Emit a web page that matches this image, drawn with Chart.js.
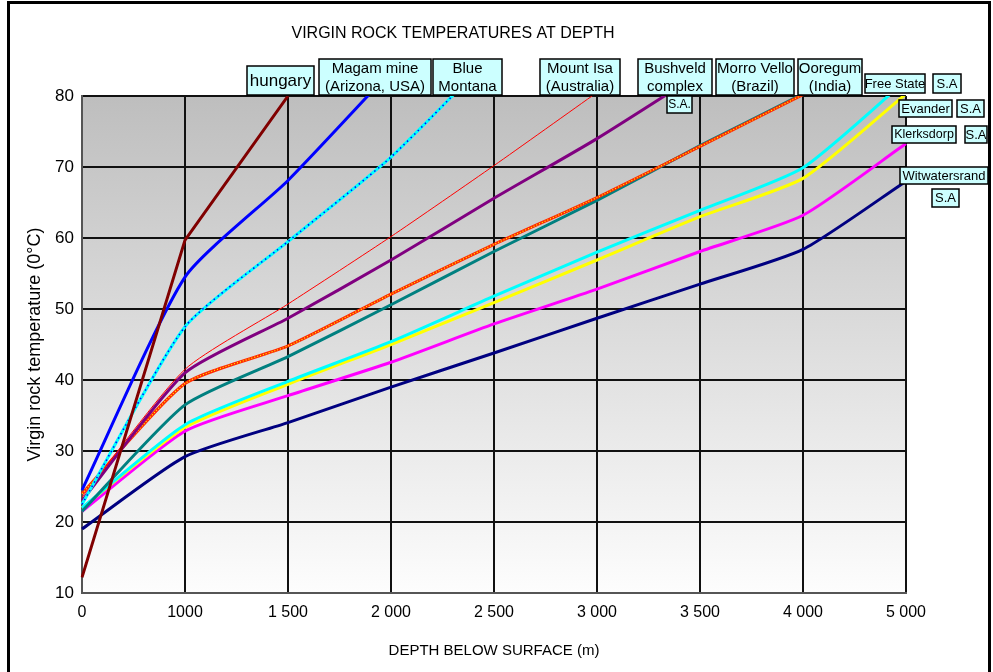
<!DOCTYPE html>
<html><head><meta charset="utf-8">
<script src="https://cdn.jsdelivr.net/npm/chart.js@4/dist/chart.umd.min.js"></script>
<style>html,body{margin:0;padding:0;background:#fff}#wrap{width:993px;height:672px;position:relative}</style>
</head><body><div id="wrap"><canvas id="c" width="993" height="672"></canvas></div>
<script>
// ---- data ----
const depthLabels = ['0','1000','1 500','2 000','2 500','3 000','3 500','4 000','5 000'];
const yTicks = [10, 20, 30, 40, 50, 60, 70, 80];
const hungary       = [12.2, 59.7, 80, null, null, null, null, null, null];
const magamMine     = [24.5, 54.5, 68.1, 83.5, null, null, null, null, null];
const blueMontana   = [22.5, 47.5, 59.5, 71.4, 86, null, null, null, null];
const mountIsa      = [23.5, 41.5, 50.7, 60.2, 70.2, 80.5, null, null, null];
const bushveld      = [23, 41, 48.7, 56.9, 65.6, 74, 83.2, null, null];
const morroVello    = [24, 39.5, 44.8, 52.1, 59.1, 65.7, 72.9, 80.2, 87.5];
const ooregum       = [21.5, 36.5, 43.3, 50.6, 58.1, 65.3, 73, 80.3, 88];
const freeState     = [22, 33.7, 39.8, 45.4, 51.8, 58, 63.9, 69.9, 82.2];
const evander       = [22, 33.3, 39.4, 45, 50.9, 56.9, 63, 68.4, 80.3];
const klerksdorp    = [21.5, 32.8, 37.8, 42.5, 47.9, 52.8, 58.1, 63.2, 73.3];
const witwatersrand = [19, 29.2, 34, 39, 43.8, 48.7, 53.5, 58.4, 68];

const title = 'VIRGIN ROCK TEMPERATURES AT DEPTH';
const xTitle = 'DEPTH BELOW SURFACE (m)';
const yTitle = 'Virgin rock temperature (0°C)';

// ---- annotation boxes (layout only) ----
const FONT = "'Liberation Sans', Arial, sans-serif";
const boxes = [
  {t:['hungary'], x:247, y:66, w:67, h:29, f:17},
  {t:['Magam mine','(Arizona, USA)'], x:319, y:59, w:112, h:36, f:15},
  {t:['Blue','Montana'], x:433, y:59, w:69, h:36, f:15},
  {t:['Mount Isa','(Australia)'], x:540, y:59, w:80, h:36, f:15},
  {t:['Bushveld','complex'], x:638, y:59, w:74, h:36, f:15},
  {t:['S.A.'], x:667, y:96, w:25, h:17, f:12},
  {t:['Morro Vello','(Brazil)'], x:716, y:59, w:78, h:36, f:15},
  {t:['Ooregum','(India)'], x:798, y:59, w:64, h:36, f:15},
  {t:['Free State'], x:865, y:74, w:60, h:19, f:13},
  {t:['S.A'], x:933, y:74, w:28, h:19, f:13},
  {t:['Evander'], x:899, y:100, w:53, h:17, f:13},
  {t:['S.A'], x:957, y:100, w:27, h:17, f:13},
  {t:['Klerksdorp'], x:892, y:126, w:64, h:17, f:12.5},
  {t:['S.A'], x:965, y:126, w:22, h:17, f:13},
  {t:['Witwatersrand'], x:900, y:167, w:88, h:17, f:13},
  {t:['S.A'], x:932, y:189, w:27, h:18, f:13}
];

const bgPlugin = {
  id: 'bg',
  beforeDraw(chart) {
    const {ctx, chartArea: a} = chart;
    ctx.save();
    ctx.fillStyle = '#fff';
    ctx.fillRect(0, 0, chart.width, chart.height);
    const g = ctx.createLinearGradient(0, a.top, 0, a.bottom);
    g.addColorStop(0, '#BEBEBE');
    g.addColorStop(1, '#FDFDFD');
    ctx.fillStyle = g;
    ctx.fillRect(a.left, a.top, a.right - a.left, a.bottom - a.top);
    ctx.restore();
  },
  afterDraw(chart) {
    const ctx = chart.ctx;
    ctx.save();
    boxes.forEach(b => {
      ctx.fillStyle = '#CCFFFF';
      ctx.fillRect(b.x, b.y, b.w, b.h);
      ctx.strokeStyle = '#000';
      ctx.lineWidth = 1.5;
      ctx.strokeRect(b.x, b.y, b.w, b.h);
      ctx.fillStyle = '#000';
      ctx.font = b.f + 'px ' + FONT;
      ctx.textAlign = 'center';
      ctx.textBaseline = 'middle';
      const lh = b.t.length > 1 ? b.h / b.t.length : b.h;
      b.t.forEach((s, i) => {
        ctx.fillText(s, b.x + b.w / 2, b.y + lh * i + lh / 2 + 0.5);
      });
    });
    ctx.strokeStyle = '#000';
    ctx.lineWidth = 3;
    ctx.strokeRect(8.5, 2.5, 981, 700);
    ctx.restore();
  }
};

function ds(label, data, color, width, extra) {
  return Object.assign({label, data, borderColor: color, backgroundColor: color,
    borderWidth: width, pointRadius: 0, tension: 0.2, fill: false}, extra || {});
}

const datasets = [
  ds('Witwatersrand S.A', witwatersrand, '#000080', 3),
  ds('Klerksdorp S.A', klerksdorp, '#FF00FF', 3),
  ds('Evander S.A', evander, '#FFFF00', 3),
  ds('Free State S.A', freeState, '#00FFFF', 3),
  ds('Ooregum (India)', ooregum, '#008080', 3),
  ds('Morro Vello (Brazil)', morroVello, '#FF2A00', 3),
  ds('Morro Vello overlay', morroVello, '#FFFF00', 1.2, {borderDash: [1, 2]}),
  ds('Bushveld complex S.A.', bushveld, '#800080', 3),
  ds('Mount Isa (Australia)', mountIsa, '#FF0000', 1),
  ds('Blue Montana', blueMontana, '#00FFFF', 3),
  ds('Blue Montana overlay', blueMontana, '#0000FF', 1.5, {borderDash: [1.5, 3.5]}),
  ds('Magam mine (Arizona, USA)', magamMine, '#0000FF', 3),
  ds('hungary', hungary, '#800000', 3, {tension: 0})
];
datasets.forEach((d, i) => { d.order = datasets.length - i; });

new Chart(document.getElementById('c'), {
  type: 'line',
  data: {labels: depthLabels, datasets},
  options: {
    responsive: false,
    animation: false,
    layout: {padding: {left: 0, right: 87, top: 0, bottom: 0}},
    plugins: {
      legend: {display: false},
      tooltip: {enabled: false},
      title: {display: true, text: title, color: '#000',
        font: {family: FONT, size: 16, weight: 'normal', lineHeight: 1.2},
        padding: {top: 24, bottom: 52.8}}
    },
    scales: {
      x: {
        type: 'category',
        offset: false,
        grid: {color: '#111', lineWidth: 2, drawTicks: false},
        border: {display: true, color: '#555', width: 2},
        ticks: {color: '#000', font: {family: FONT, size: 16}, padding: 10, maxRotation: 0, autoSkip: false},
        title: {display: true, text: xTitle, color: '#000', font: {family: FONT, size: 15}, padding: {top: 0, bottom: 12}},
        afterFit(s) { s.height = 79; }
      },
      y: {
        min: yTicks[0], max: yTicks[yTicks.length - 1],
        afterBuildTicks(s) { s.ticks = yTicks.map(v => ({value: v})); },
        grid: {color: '#111', lineWidth: 2, drawTicks: false},
        border: {display: true, color: '#555', width: 2},
        ticks: {color: '#000', font: {family: FONT, size: 17}, padding: 8},
        title: {display: true, text: yTitle, color: '#000', font: {family: FONT, size: 18}, padding: {top: 24, bottom: 0}},
        afterFit(s) { s.width = 82; }
      }
    }
  },
  plugins: [bgPlugin]
});
</script>
</body></html>
